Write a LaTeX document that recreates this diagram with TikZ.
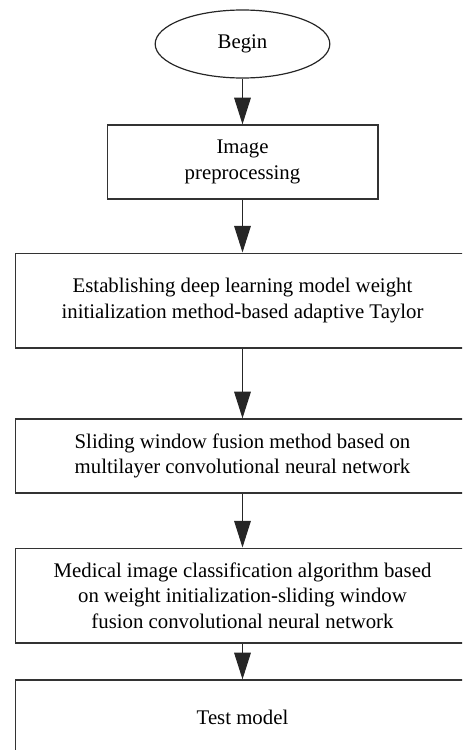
\documentclass[tikz,border=0pt]{standalone}
\usepackage{fontspec}
\setmainfont{Liberation Serif}
\usetikzlibrary{arrows.meta,shapes.geometric}

\begin{document}
\begin{tikzpicture}[x=0.75pt,y=-0.75pt,
  every node/.style={font=\fontsize{15.6}{19}\selectfont, align=center, inner sep=0pt},
  term/.style={draw=black!85, line width=0.9pt, ellipse, minimum width=131pt, minimum height=51pt},
  box/.style={draw=black!80, line width=1pt, rectangle, minimum width=#1},
  flow/.style={draw=black!85, line width=0.8pt, -{Triangle[length=20pt,width=12.5pt]}}]

% Page
\useasboundingbox (0,0) rectangle (462,750);
\clip (0,0) rectangle (462,750);

% Parameters
\def\mid{242.5}

% Start
\node[term] (begin) at (\mid,44) {Begin};

% Steps
\node[box=203pt, minimum height=55.5pt] (prep) at (\mid,162) {Image\\preprocessing};
\node[box=341pt, minimum height=71pt] (init) at (\mid,300.5)
  {Establishing deep learning model weight\\initialization method-based adaptive Taylor};
\node[box=341pt, minimum height=55.5pt] (slide) at (\mid,456)
  {Sliding window fusion method based on\\multilayer convolutional neural network};
\node[box=341pt, minimum height=71pt] (classify) at (\mid,595.5)
  {Medical image classification algorithm based\\on weight initialization-sliding window\\fusion convolutional neural network};
\node[box=341pt, minimum height=55.5pt] (test) at (\mid,717) {Test model};

% Arrows
\draw[flow] (begin) -- (prep);
\draw[flow] (prep) -- (init);
\draw[flow] (init) -- (slide);
\draw[flow] (slide) -- (classify);
\draw[flow] (classify) -- (test);

\end{tikzpicture}
\end{document}
